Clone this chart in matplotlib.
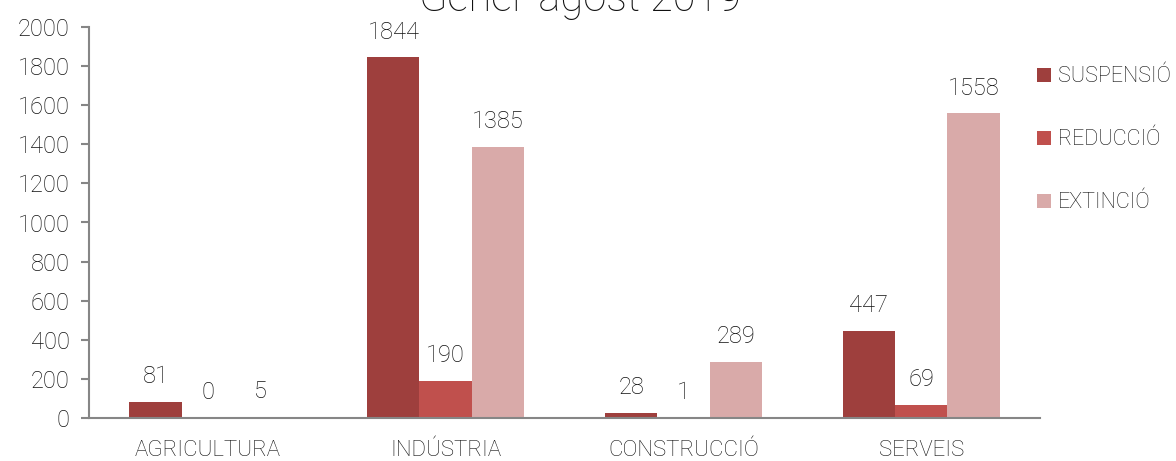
import matplotlib.pyplot as plt
import numpy as np

plt.rcParams['font.family'] = ['Roboto', 'DejaVu Sans']
plt.rcParams['font.weight'] = 'light'

sectors = ["AGRICULTURA", "INDÚSTRIA", "CONSTRUCCIÓ", "SERVEIS"]
suspensio = [81, 1844, 28, 447]
reduccio = [0, 190, 1, 69]
extincio = [5, 1385, 289, 1558]
series_names = ["SUSPENSIÓ", "REDUCCIÓ", "EXTINCIÓ"]
colors = ["#9E3F3D", "#C0504D", "#D9AAA9"]
yticks = [0, 200, 400, 600, 800, 1000, 1200, 1400, 1600, 1800, 2000]

fig = plt.figure(figsize=(11.76, 4.61), dpi=100)
ax = fig.add_axes([89/1176, 43/461, 951/1176, 391/461])

x = np.arange(len(sectors))
w = 0.22
for i, (vals, name, c) in enumerate(zip([suspensio, reduccio, extincio], series_names, colors)):
    pos = x + (i - 1) * w
    ax.bar(pos, vals, width=w, color=c, label=name)
    for p, v in zip(pos, vals):
        ax.annotate(str(v), (p, v), xytext=(0, 10), textcoords="offset points",
                    ha="center", va="bottom", fontsize=17, color="#111111")

ax.set_xlim(-0.5, 3.5)
ax.set_ylim(0, 2000)
ax.set_yticks(yticks)
ax.set_xticks(x)
ax.set_xticklabels(sectors)
for s in ["top", "right"]:
    ax.spines[s].set_visible(False)
for s in ["left", "bottom"]:
    ax.spines[s].set_color("#868686")
    ax.spines[s].set_linewidth(1.5)
ax.tick_params(axis="y", length=6, width=1.5, color="#868686", pad=8, labelsize=17,
               labelcolor="#111111")
ax.tick_params(axis="x", length=0, pad=16, labelsize=16, labelcolor="#111111")

fig.text(0.493, 1.0, "Gener-agost 2019", ha="center", va="center", fontsize=30, color="#111111")

fig.legend(loc="upper left", bbox_to_anchor=(1018/1176, 0.898), frameon=False,
           fontsize=15.5, handlelength=0.65, handleheight=0.65, handletextpad=0.3,
           labelspacing=1.95, labelcolor="#111111")

fig.savefig("out.png", dpi=100)
